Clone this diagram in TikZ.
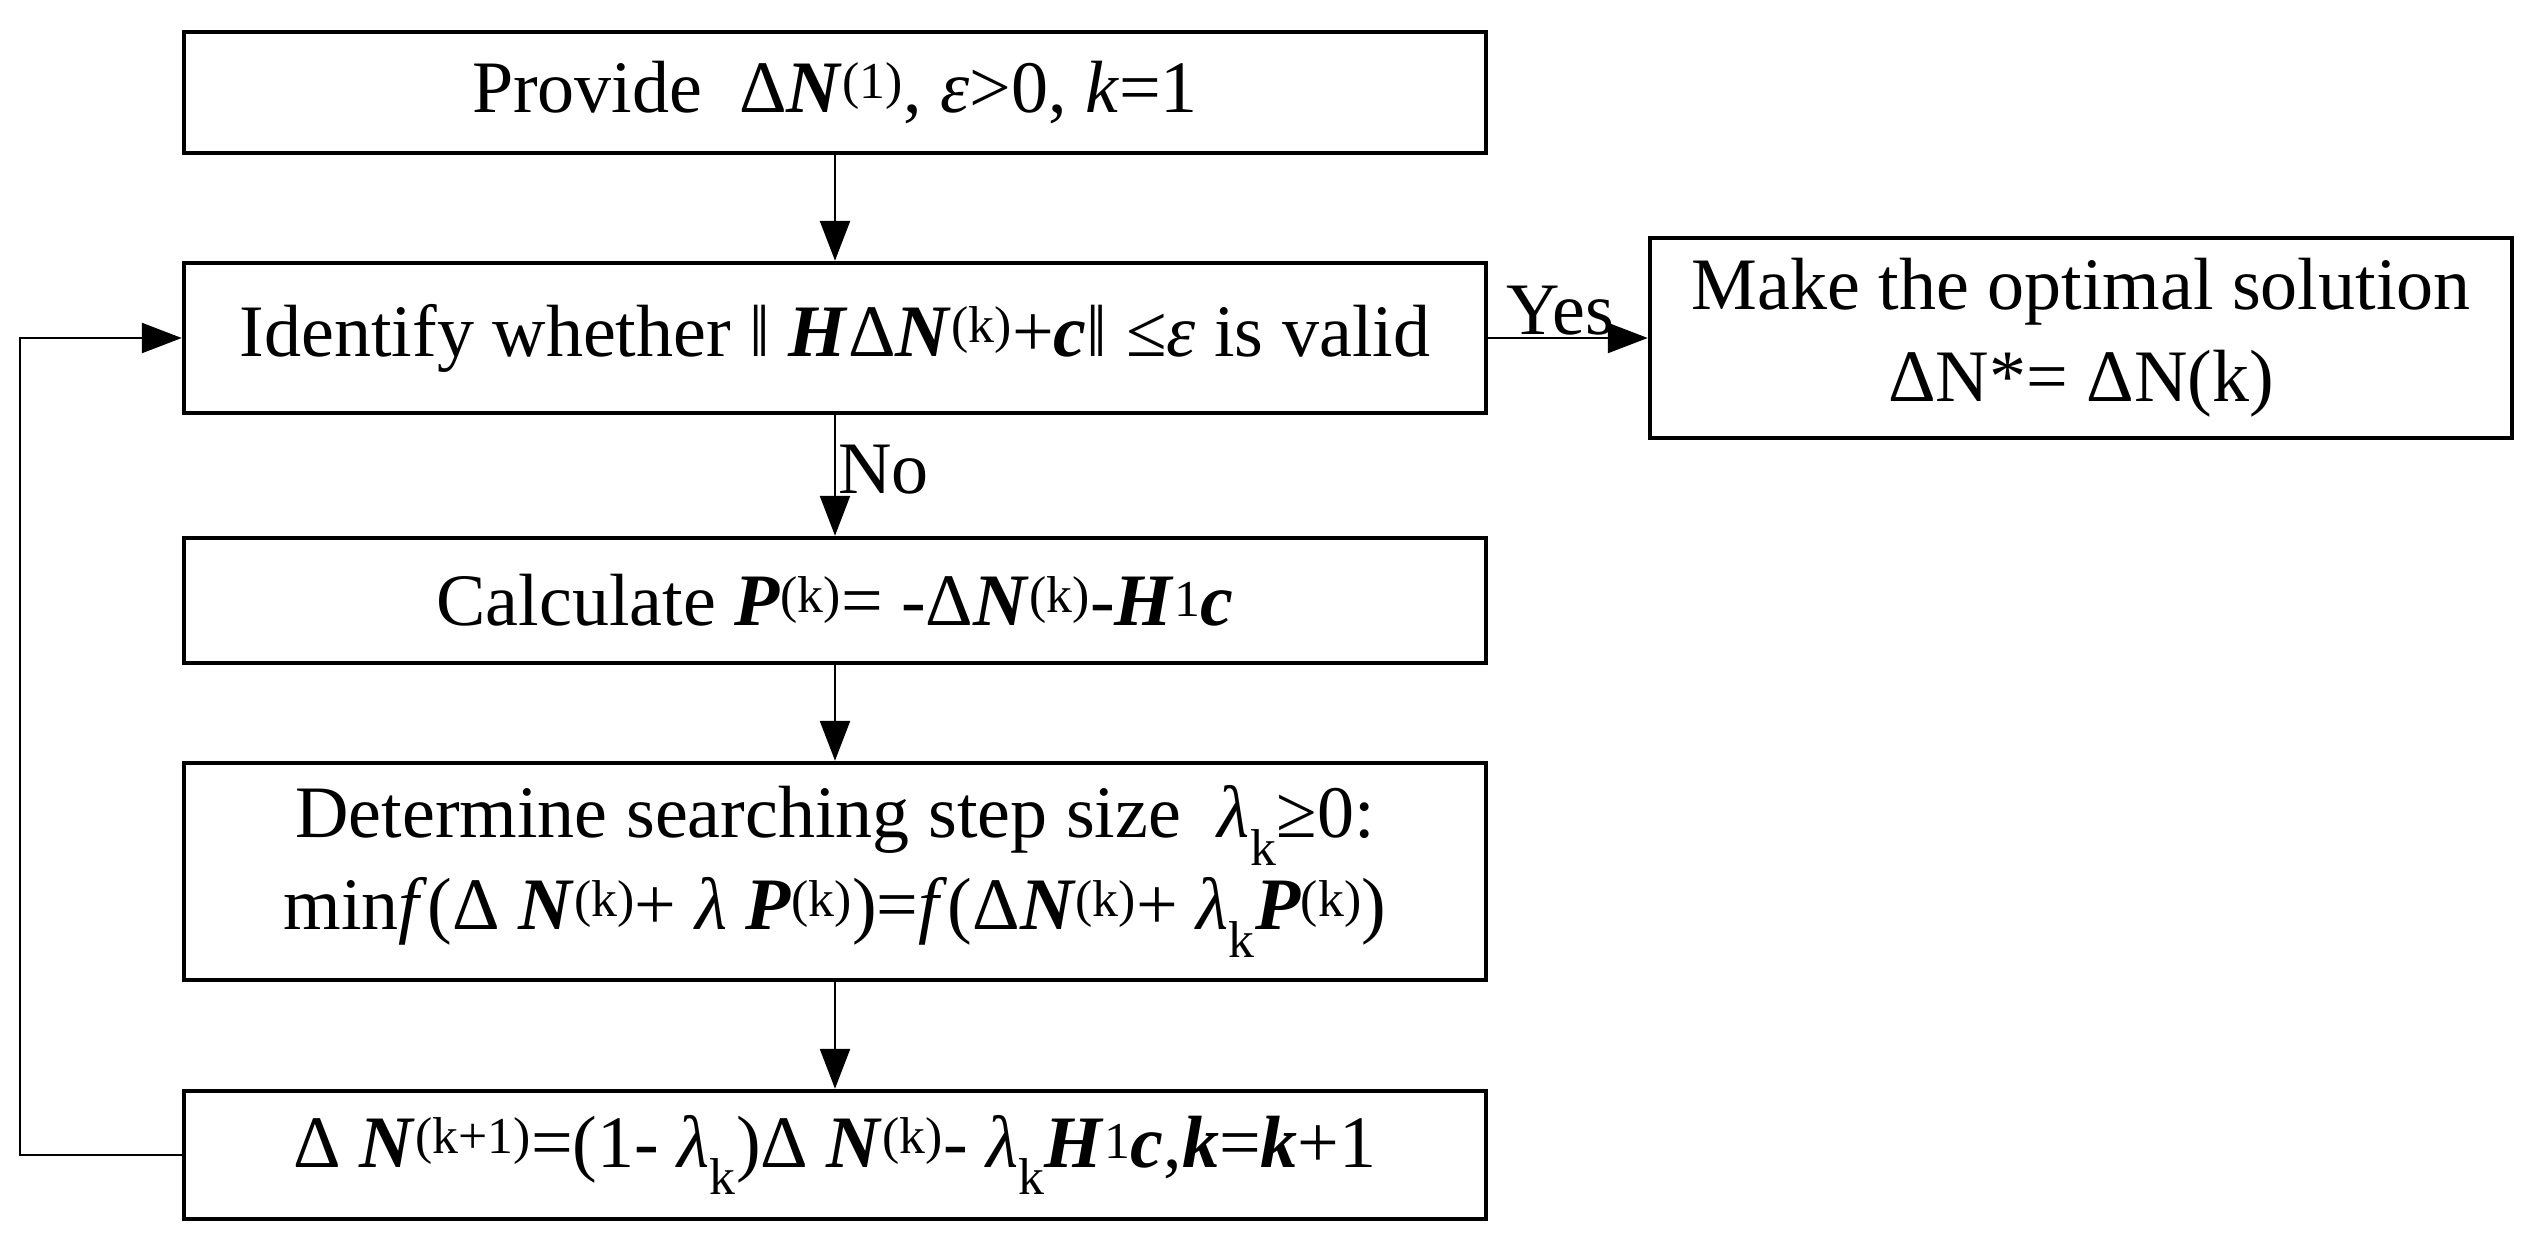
\documentclass[tikz,border=0pt]{standalone}
\usepackage{fontspec}
\setmainfont{Liberation Serif}
\usetikzlibrary{arrows.meta}
\newcommand{\bN}{\textbf{\textit{N}}}
\newcommand{\bH}{\textbf{\textit{H}}}
\newcommand{\bc}{\textbf{\textit{c}}}
\newcommand{\bP}{\textbf{\textit{P}}}
\newcommand{\bk}{\textbf{\textit{k}}}
\newcommand{\sps}[1]{\textsuperscript{#1}}
\newcommand{\sbs}[1]{\textsubscript{#1}}
\begin{document}
\begin{tikzpicture}[x=1pt,y=1pt,
  box/.style={draw,line width=4.5pt,rectangle,align=center,inner sep=0pt,font=\fontsize{74}{92}\selectfont},
  lbl/.style={font=\fontsize{74}{80}\selectfont,inner sep=2pt},
  arr/.style={line width=2.5pt,-{Triangle[length=40pt,width=30pt]}}]
\useasboundingbox (0,0) rectangle (2538,-1250);
\node[box,minimum width=1302pt,minimum height=121pt] (b1) at (835,-92.5) {Provide\ \ Δ\bN\sps{(1)}, \textit{ε}>0, \textit{k}=1};
\node[box,minimum width=1302pt,minimum height=150pt] (b2) at (835,-338) {Identify whether ‖ \bH Δ\bN\sps{(k)}+\bc‖ ≤\textit{ε} is valid};
\node[box,minimum width=862pt,minimum height=200pt] (b3) at (2081,-338) {Make the optimal solution\\ΔN*= ΔN(k)};
\node[box,minimum width=1302pt,minimum height=125pt] (b4) at (835,-600.5) {Calculate \bP\sps{(k)}= -Δ\bN\sps{(k)}-\bH\sps{1}\bc};
\node[box,minimum width=1302pt,minimum height=217pt] (b5) at (835,-871.5) {Determine searching step size\ \ \textit{λ}\sbs{k}≥0:\\min\textit{f}(Δ \bN\sps{(k)}+ \textit{λ} \bP\sps{(k)})=\textit{f}(Δ\bN\sps{(k)}+ \textit{λ}\sbs{k}\bP\sps{(k)})};
\node[box,minimum width=1302pt,minimum height=128pt] (b6) at (835,-1155) {Δ \bN\sps{(k+1)}=(1- \textit{λ}\sbs{k})Δ \bN\sps{(k)}- \textit{λ}\sbs{k}\bH\sps{1}\bc,\bk=\bk+1};
\draw[arr] (b1) -- (b2);
\draw[arr] (b2) -- node[lbl,right,pos=0.45]{No} (b4);
\draw[arr] (b4) -- (b5);
\draw[arr] (b5) -- (b6);
\draw[arr] (b2.east) -- node[lbl,above,pos=0.45]{Yes} (b2.east -| b3.west);
\coordinate (c1) at (20,-1155);
\coordinate (c2) at (20,-338);
\draw[arr] (b6.west) -- (c1) -- (c2) -- (b2.west);
\end{tikzpicture}
\end{document}
